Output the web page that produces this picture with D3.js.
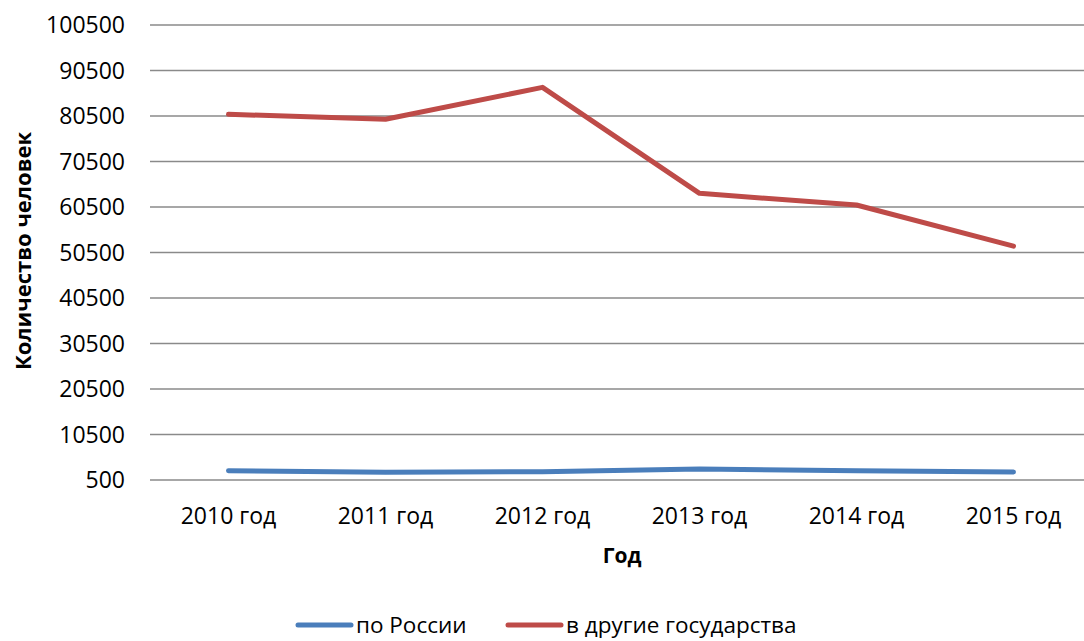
<!DOCTYPE html>
<html>
<head>
<meta charset="utf-8">
<script src="https://cdn.jsdelivr.net/npm/d3@7"></script>
<style>
  body { margin: 0; background: #fff; }
  svg { display: block; font-family: "Open Sans", "Liberation Sans", sans-serif; }
</style>
</head>
<body>
<div id="chart"></div>
<script>
// data
const years = ['2010 год', '2011 год', '2012 год', '2013 год', '2014 год', '2015 год'];
const russia = [2550, 2200, 2320, 2920, 2550, 2260];
const abroad = [80870, 79780, 86800, 63500, 60940, 51900];
const yTicks = [500, 10500, 20500, 30500, 40500, 50500, 60500, 70500, 80500, 90500, 100500];

const seriesList = [
  { name: 'по России', values: russia, color: '#4a7ebb' },
  { name: 'в другие государства', values: abroad, color: '#be4b48' }
];

const width = 1084, height = 641;
const margin = { top: 25, left: 150, bottom: 161 };
const plotRight = 1092; // the plot runs slightly past the window edge

const svg = d3.select('#chart').append('svg')
  .attr('width', width)
  .attr('height', height);

const x = d3.scalePoint()
  .domain(years)
  .range([margin.left, plotRight])
  .padding(0.5);

const y = d3.scaleLinear()
  .domain([500, 100500])
  .range([height - margin.bottom, margin.top]);

// gridlines
svg.append('g')
  .selectAll('line')
  .data(yTicks)
  .enter().append('line')
  .attr('x1', margin.left)
  .attr('x2', plotRight)
  .attr('y1', d => y(d))
  .attr('y2', d => y(d))
  .attr('stroke', '#8a8a8a')
  .attr('stroke-width', 1.5);

// y tick labels
svg.append('g')
  .selectAll('text')
  .data(yTicks)
  .enter().append('text')
  .attr('x', 125)
  .attr('y', d => y(d))
  .attr('dy', '0.35em')
  .attr('text-anchor', 'end')
  .attr('font-size', 23)
  .attr('fill', '#000')
  .text(d => d);

// x tick labels
svg.append('g')
  .selectAll('text')
  .data(years)
  .enter().append('text')
  .attr('x', d => x(d))
  .attr('y', 524)
  .attr('text-anchor', 'middle')
  .attr('font-size', 23)
  .attr('fill', '#000')
  .text(d => d);

// axis titles
svg.append('text')
  .attr('x', 622)
  .attr('y', 563)
  .attr('text-anchor', 'middle')
  .attr('font-size', 21)
  .attr('font-weight', 'bold')
  .text('Год');

svg.append('text')
  .attr('transform', 'translate(31,251) rotate(-90)')
  .attr('text-anchor', 'middle')
  .attr('font-size', 22)
  .attr('font-weight', 'bold')
  .text('Количество человек');

// lines
const line = d3.line()
  .x((d, i) => x(years[i]))
  .y(d => y(d));

svg.append('g')
  .selectAll('path')
  .data(seriesList)
  .enter().append('path')
  .attr('d', d => line(d.values))
  .attr('fill', 'none')
  .attr('stroke', d => d.color)
  .attr('stroke-width', 5)
  .attr('stroke-linecap', 'round')
  .attr('stroke-linejoin', 'round');

// legend
const legendX = [298, 508];
const legend = svg.append('g')
  .selectAll('g')
  .data(seriesList)
  .enter().append('g')
  .attr('transform', (d, i) => `translate(${legendX[i]},625)`);

legend.append('line')
  .attr('x1', 0)
  .attr('x2', 53)
  .attr('stroke', d => d.color)
  .attr('stroke-width', 5)
  .attr('stroke-linecap', 'round');

legend.append('text')
  .attr('x', 58)
  .attr('dy', '0.35em')
  .attr('font-size', 22.5)
  .text(d => d.name);
</script>
</body>
</html>
